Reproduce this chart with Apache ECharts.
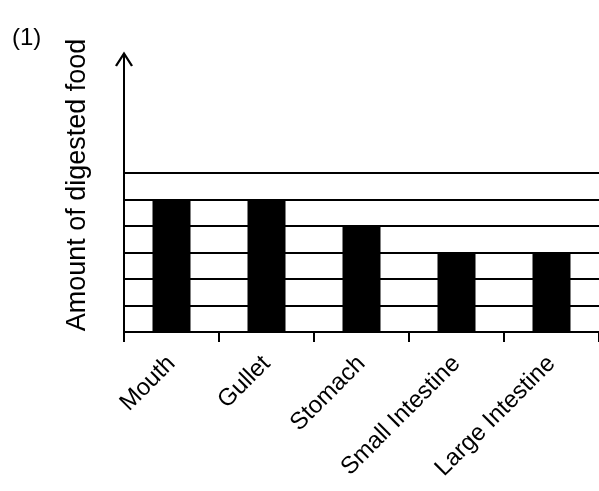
<!DOCTYPE html>
<html>
<head>
<meta charset="utf-8"/>
<title>Amount of digested food</title>
<script type="text/javascript" src="https://cdn.jsdelivr.net/npm/echarts@6/dist/echarts.min.js"></script>
<style type="text/css">
	body{
		margin: 0px;
		padding: 0px;
		background-color: #fff;
	}
	#chart{
		width: 599px;
		height: 491px;
	}
</style>
</head>
<body>
	<div id="chart"></div>
<script type="text/javascript">
	// 数据
	var organs = ['Mouth', 'Gullet', 'Stomach', 'Small Intestine', 'Large Intestine'];
	var amounts = [5, 5, 4, 3, 3];
	// 横线位置
	var levels = [1, 2, 3, 4, 5, 6];
	var yMax = 10.5;

	var font = 'Arial, "Liberation Sans", Helvetica, sans-serif';
	var levelLines = [];
	for (var i = 0; i < levels.length; i++) {
		levelLines.push({ yAxis: levels[i] });
	}

	var myChart = echarts.init(document.getElementById('chart'));
	var option = {
		backgroundColor: '#fff',
		animation: false,
		title: {
			text: '(1)',
			left: 7,
			top: 21,
			textStyle: {
				color: '#000',
				fontWeight: 'normal',
				fontSize: 24,
				fontFamily: font
			}
		},
		grid: {
			left: 124,
			top: 54,
			bottom: 159,
			width: 484
		},
		xAxis: {
			type: 'category',
			data: organs,
			axisLine: {
				lineStyle: { color: '#000', width: 2 }
			},
			axisTick: {
				show: true,
				length: 10,
				lineStyle: { color: '#000', width: 2 }
			},
			axisLabel: {
				rotate: 45,
				interval: 0,
				margin: 28,
				color: '#000',
				fontSize: 24,
				fontFamily: font
			},
			splitLine: { show: false }
		},
		yAxis: {
			type: 'value',
			min: 0,
			max: yMax,
			interval: 1,
			name: 'Amount of digested food',
			nameLocation: 'middle',
			nameRotate: 90,
			nameGap: 33,
			nameTextStyle: {
				color: '#000',
				fontSize: 27,
				fontFamily: font,
				padding: [0, 0, 0, 16]
			},
			axisLine: {
				show: true,
				symbol: ['none', 'path://M0,14 L9,0 L18,14 L16,15 L9,4 L2,15 Z'],
				symbolSize: [18, 15],
				symbolOffset: [0, -5],
				lineStyle: { color: '#000', width: 2 }
			},
			axisTick: { show: false },
			axisLabel: { show: false },
			splitLine: { show: false }
		},
		series: [
			{
				type: 'bar',
				data: amounts,
				barWidth: 38,
				itemStyle: { color: '#000' },
				markLine: {
					silent: true,
					symbol: ['none', 'none'],
					label: { show: false },
					lineStyle: { color: '#000', width: 2, type: 'solid' },
					data: levelLines
				}
			}
		]
	};
	myChart.setOption(option);
</script>
</body>
</html>
